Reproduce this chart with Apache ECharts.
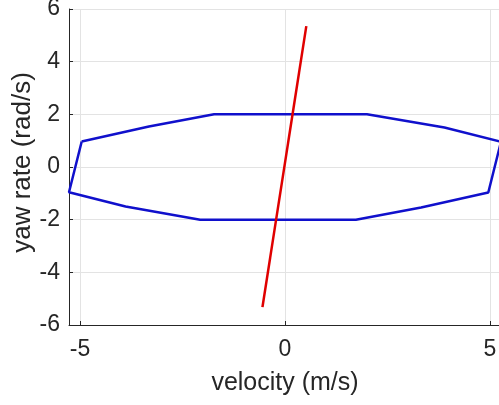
<!DOCTYPE html>
<html>
<head>
<meta charset="utf-8">
<script src="https://cdn.jsdelivr.net/npm/echarts@6/dist/echarts.min.js"></script>
<style>
html,body{margin:0;padding:0;background:#fff;}
#chart{width:499px;height:405px;}
</style>
</head>
<body>
<div id="chart"></div>
<script>
// Blue polygon (closed)
var polyX = [-4.96, -3.32, -1.73, 2.0, 3.89, 5.27, 4.96, 3.32, 1.73, -2.07, -3.89, -5.27, -4.96];
var polyY = [0.97, 1.54, 2.0, 2.0, 1.50, 0.96, -0.97, -1.54, -2.0, -2.0, -1.50, -0.96, 0.97];
// Red line
var lineX = [-0.55, 0.52];
var lineY = [-5.32, 5.35];
var xTicks = [-5, 0, 5];
var yTicks = [-6, -4, -2, 0, 2, 4, 6];

function zip(a, b) { return a.map(function (v, i) { return [v, b[i]]; }); }

var font = "'Liberation Sans', Arial, Helvetica, sans-serif";
var chart = echarts.init(document.getElementById('chart'), null, {renderer: 'canvas'});
chart.setOption({
  animation: false,
  backgroundColor: '#ffffff',
  grid: {left: 69, top: 9, width: 432, height: 316, containLabel: false, outerBoundsMode: 'none'},
  xAxis: {
    type: 'value', min: -5.27, max: 5.27, splitNumber: 2,
    name: 'velocity (m/s)', nameLocation: 'middle', nameGap: 46, nameMoveOverlap: false,
    nameTextStyle: {fontFamily: font, fontSize: 25, color: '#262626'},
    axisLine: {show: true, onZero: false, lineStyle: {color: '#262626', width: 1}},
    axisTick: {show: true, inside: true, length: 4, lineStyle: {color: '#262626'}},
    axisLabel: {show: true, margin: 13, fontFamily: font, fontSize: 23, color: '#262626',
      showMinLabel: false, showMaxLabel: false,
      formatter: function (v) { return xTicks.indexOf(v) >= 0 ? String(v) : ''; }},
    splitLine: {show: true, lineStyle: {color: '#e3e3e3', width: 1}}
  },
  yAxis: {
    type: 'value', min: yTicks[0], max: yTicks[yTicks.length - 1], interval: 2,
    name: 'yaw rate (rad/s)', nameLocation: 'middle', nameGap: 33, nameMoveOverlap: false,
    nameTextStyle: {fontFamily: font, fontSize: 26, color: '#262626', padding: [0, 0, 0, 9]},
    axisLine: {show: true, onZero: false, lineStyle: {color: '#262626', width: 1}},
    axisTick: {show: true, inside: true, length: 4, lineStyle: {color: '#262626'}},
    axisLabel: {show: true, margin: 9, fontFamily: font, fontSize: 23, color: '#262626'},
    splitLine: {show: true, lineStyle: {color: '#e3e3e3', width: 1}}
  },
  series: [
    {type: 'line', data: zip(polyX, polyY), showSymbol: false, symbol: 'none',
     lineStyle: {color: '#1010cc', width: 2.5}, clip: false},
    {type: 'line', data: zip(lineX, lineY), showSymbol: false, symbol: 'none',
     lineStyle: {color: '#e00000', width: 2.5}, clip: false}
  ]
});
</script>
</body>
</html>
